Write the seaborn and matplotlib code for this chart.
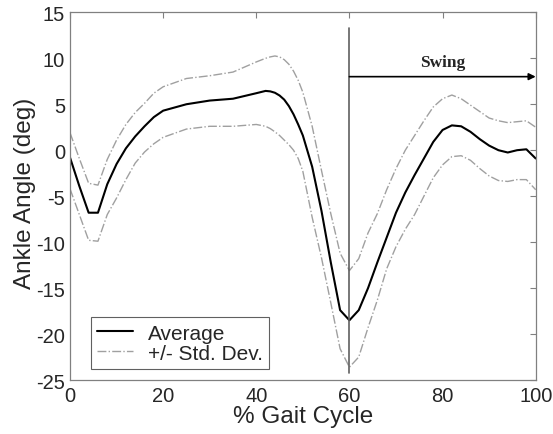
import matplotlib
matplotlib.use('Agg')
import matplotlib.pyplot as plt
import seaborn as sns
import pandas as pd

# % gait cycle and ankle angle (deg)
gait_pct = [0, 2, 4, 6, 8, 10, 12, 14, 16, 18, 20, 25, 30, 35, 40, 42, 43, 44, 45, 46, 47, 48,
            49, 50, 52, 54, 56, 58, 60, 62, 64, 66, 68, 70, 72, 74, 76, 78, 80, 82, 84,
            86, 88, 90, 92, 94, 96, 98, 100]
avg_angle = [-0.8, -3.9, -6.8, -6.8, -3.7, -1.5, 0.2, 1.5, 2.6, 3.6, 4.3, 5.0, 5.4, 5.6, 6.2,
             6.45, 6.4, 6.25, 5.95, 5.5, 4.8, 3.9, 2.8, 1.6, -1.8, -6.6, -12.2, -17.4, -18.5,
             -17.4, -15.0, -12.2, -9.5, -6.8, -4.6, -2.7, -0.9, 0.9, 2.2, 2.7, 2.6, 2.0, 1.2,
             0.5, 0.0, -0.25, 0.0, 0.1, -0.9]
upper_std = [1.9, -0.9, -3.6, -3.8, -1.0, 1.1, 2.8, 4.1, 5.1, 6.2, 6.9, 7.8, 8.1, 8.5, 9.6,
             10.0, 10.15, 10.25, 10.15, 9.85, 9.35, 8.6, 7.6, 6.3, 2.6, -2.2, -6.9, -11.2,
             -13.1, -11.8, -9.0, -6.9, -4.3, -2.0, 0.0, 1.6, 3.2, 4.7, 5.6, 6.0, 5.6, 4.9,
             4.2, 3.5, 3.2, 3.0, 3.1, 3.2, 2.5]
lower_std = [-4.2, -7.0, -9.8, -9.9, -7.0, -5.2, -3.2, -1.4, -0.2, 0.7, 1.4, 2.3, 2.6, 2.6,
             2.8, 2.6, 2.35, 2.0, 1.6, 1.1, 0.6, 0.0, -0.9, -2.3, -7.3, -11.7, -16.6, -21.6,
             -23.6, -22.5, -19.3, -16.3, -12.9, -10.5, -8.6, -7.0, -5.0, -3.0, -1.6, -0.7,
             -0.6, -1.1, -2.0, -2.8, -3.3, -3.4, -3.2, -3.2, -4.3]

toe_off = 60
swing_end = 100

df = pd.DataFrame({'pct': gait_pct, 'avg': avg_angle, 'up': upper_std, 'lo': lower_std})

sns.set_style('white')
plt.rcParams['font.family'] = ['Liberation Sans', 'DejaVu Sans']
plt.rcParams['axes.unicode_minus'] = False

fig = plt.figure(figsize=(5.53, 4.35), dpi=100)
ax = fig.add_axes([0.1266, 0.1241, 0.8421, 0.8453])

grey = '#a0a0a0'
sns.lineplot(data=df, x='pct', y='avg', ax=ax, color='black', lw=1.5, label='Average')
sns.lineplot(data=df, x='pct', y='up', ax=ax, color=grey, lw=1.0, ls='-.', label='+/- Std. Dev.')
sns.lineplot(data=df, x='pct', y='lo', ax=ax, color=grey, lw=1.0, ls='-.', label='_nolegend_')

# toe-off line and swing arrow
ax.plot([toe_off, toe_off], [-24.2, 13.3], color='#606060', lw=1.2)
ax.annotate('', xy=(swing_end, 8), xytext=(toe_off, 8),
            arrowprops=dict(arrowstyle='-|>', color='black', lw=1.2, mutation_scale=10,
                            shrinkA=0, shrinkB=0))
ax.text(80, 9.6, 'Swing', ha='center', va='center', fontsize=12.5, fontweight='bold',
        family='Liberation Serif')

ax.set_xlim(0, 100)
ax.set_ylim(-25, 15)
ax.set_xticks(range(0, 101, 20))
ax.set_yticks(range(-25, 16, 5))
ax.tick_params(direction='in', length=4, width=0.8, color='#808080', labelsize=14.5,
               top=True, right=True)
ax.tick_params(axis='x', pad=4)
ax.tick_params(axis='y', pad=3.5)
for s in ax.spines.values():
    s.set_color('#808080')
    s.set_linewidth(0.9)

ax.set_xlabel('% Gait Cycle', fontsize=17.5, labelpad=0)
ax.set_ylabel('Ankle Angle (deg)', fontsize=17.5)
ax.yaxis.set_label_coords(-0.073, 0.51)

leg = ax.legend(loc='lower left', bbox_to_anchor=(0.0444, 0.030), fontsize=15,
                frameon=True, fancybox=False, framealpha=1, borderaxespad=0,
                handlelength=1.75, handletextpad=0.7, borderpad=0.3, labelspacing=0.05)
leg.get_frame().set_edgecolor('#606060')
leg.get_frame().set_linewidth(0.8)

fig.savefig('out.png', dpi=100)
